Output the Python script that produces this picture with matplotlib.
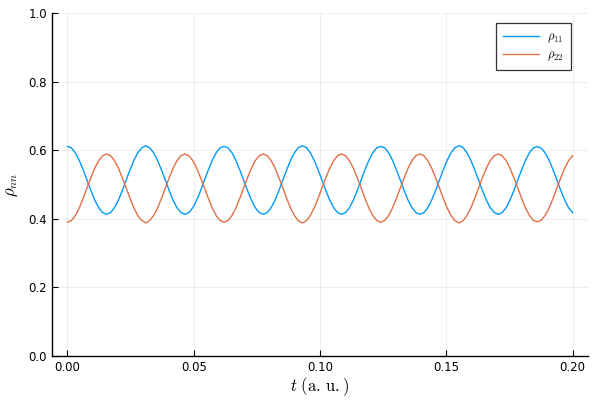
import numpy as np
import matplotlib
matplotlib.use("Agg")
import matplotlib.pyplot as plt

# values, 20 samples per oscillation, evenly spaced over t in [0, 0.2]
rho11 = [
    0.611, 0.607, 0.593, 0.571, 0.543, 0.513, 0.482, 0.454, 0.432, 0.418,
    0.413, 0.418, 0.432, 0.454, 0.482, 0.513, 0.543, 0.571, 0.593, 0.607,
    0.613, 0.607, 0.593, 0.571, 0.543, 0.513, 0.482, 0.454, 0.432, 0.418,
    0.413, 0.418, 0.432, 0.454, 0.482, 0.513, 0.543, 0.571, 0.593, 0.607,
    0.611, 0.607, 0.593, 0.571, 0.543, 0.513, 0.482, 0.454, 0.432, 0.418,
    0.413, 0.418, 0.432, 0.454, 0.482, 0.513, 0.543, 0.571, 0.593, 0.608,
    0.613, 0.608, 0.593, 0.571, 0.543, 0.513, 0.482, 0.454, 0.432, 0.418,
    0.413, 0.418, 0.432, 0.454, 0.482, 0.513, 0.543, 0.571, 0.593, 0.607,
    0.611, 0.607, 0.593, 0.571, 0.543, 0.513, 0.482, 0.454, 0.432, 0.418,
    0.413, 0.418, 0.432, 0.454, 0.482, 0.513, 0.543, 0.571, 0.593, 0.608,
    0.613, 0.608, 0.593, 0.571, 0.543, 0.513, 0.482, 0.454, 0.432, 0.418,
    0.413, 0.418, 0.432, 0.454, 0.482, 0.513, 0.543, 0.571, 0.593, 0.607,
    0.610, 0.606, 0.592, 0.571, 0.543, 0.513, 0.482, 0.454, 0.432, 0.418,
]
rho22 = [
    0.390, 0.395, 0.409, 0.431, 0.459, 0.490, 0.520, 0.548, 0.570, 0.584,
    0.589, 0.584, 0.570, 0.548, 0.520, 0.490, 0.459, 0.431, 0.409, 0.395,
    0.388, 0.395, 0.409, 0.431, 0.459, 0.490, 0.520, 0.548, 0.570, 0.584,
    0.589, 0.584, 0.570, 0.548, 0.520, 0.490, 0.459, 0.431, 0.409, 0.395,
    0.390, 0.395, 0.409, 0.431, 0.459, 0.490, 0.520, 0.548, 0.570, 0.584,
    0.589, 0.584, 0.570, 0.548, 0.520, 0.490, 0.459, 0.431, 0.409, 0.394,
    0.388, 0.394, 0.409, 0.431, 0.459, 0.490, 0.520, 0.548, 0.570, 0.584,
    0.589, 0.584, 0.570, 0.548, 0.520, 0.490, 0.459, 0.431, 0.409, 0.395,
    0.390, 0.395, 0.409, 0.431, 0.459, 0.490, 0.520, 0.548, 0.570, 0.584,
    0.589, 0.584, 0.570, 0.548, 0.520, 0.490, 0.459, 0.431, 0.409, 0.394,
    0.388, 0.394, 0.409, 0.431, 0.459, 0.490, 0.520, 0.548, 0.570, 0.584,
    0.589, 0.584, 0.570, 0.548, 0.520, 0.490, 0.459, 0.431, 0.409, 0.395,
    0.391, 0.396, 0.410, 0.431, 0.459, 0.490, 0.520, 0.548, 0.570, 0.584,
]
t_start, t_end = 0.0, 0.2
t = np.linspace(t_start, t_end, len(rho11))

x_ticks = [0.00, 0.05, 0.10, 0.15, 0.20]
y_ticks = [0.0, 0.2, 0.4, 0.6, 0.8, 1.0]

plt.rcParams["mathtext.fontset"] = "cm"
plt.rcParams["font.family"] = "DejaVu Sans"

fig = plt.figure(figsize=(6, 4), dpi=100)
ax = fig.add_axes([0.0867, 0.11, 0.8933, 0.8575])

ax.plot(t, rho11, color="#009AFA", lw=1.0, label=r"$\rho_{11}$")
ax.plot(t, rho22, color="#E36F47", lw=1.0, label=r"$\rho_{22}$")

ax.set_xlim(-0.0061, 0.2061)
ax.set_ylim(0, 1)
ax.set_xticks(x_ticks)
ax.set_xticklabels([f"{v:.2f}" for v in x_ticks])
ax.set_yticks(y_ticks)
ax.set_yticklabels([f"{v:.1f}" for v in y_ticks])
ax.tick_params(direction="in", length=4, width=0.8, labelsize=8.5, color="black")
ax.grid(True, color="black", alpha=0.08, lw=0.6)
for side in ["top", "right"]:
    ax.spines[side].set_visible(False)
for side in ["left", "bottom"]:
    ax.spines[side].set_linewidth(1.0)

ax.set_xlabel(r"$t\ (\mathrm{a.\,u.})$", fontsize=12, labelpad=1)
ax.set_ylabel(r"$\rho_{nn}$", fontsize=12, labelpad=6)

leg = ax.legend(loc="upper right", bbox_to_anchor=(0.9685, 0.971), fontsize=9,
                frameon=True, fancybox=False, handlelength=2.9, borderpad=0.6,
                labelspacing=0.25, borderaxespad=0, handletextpad=0.6)
leg.get_frame().set_edgecolor("black")
leg.get_frame().set_linewidth(0.9)

fig.savefig("out.png", dpi=100)
